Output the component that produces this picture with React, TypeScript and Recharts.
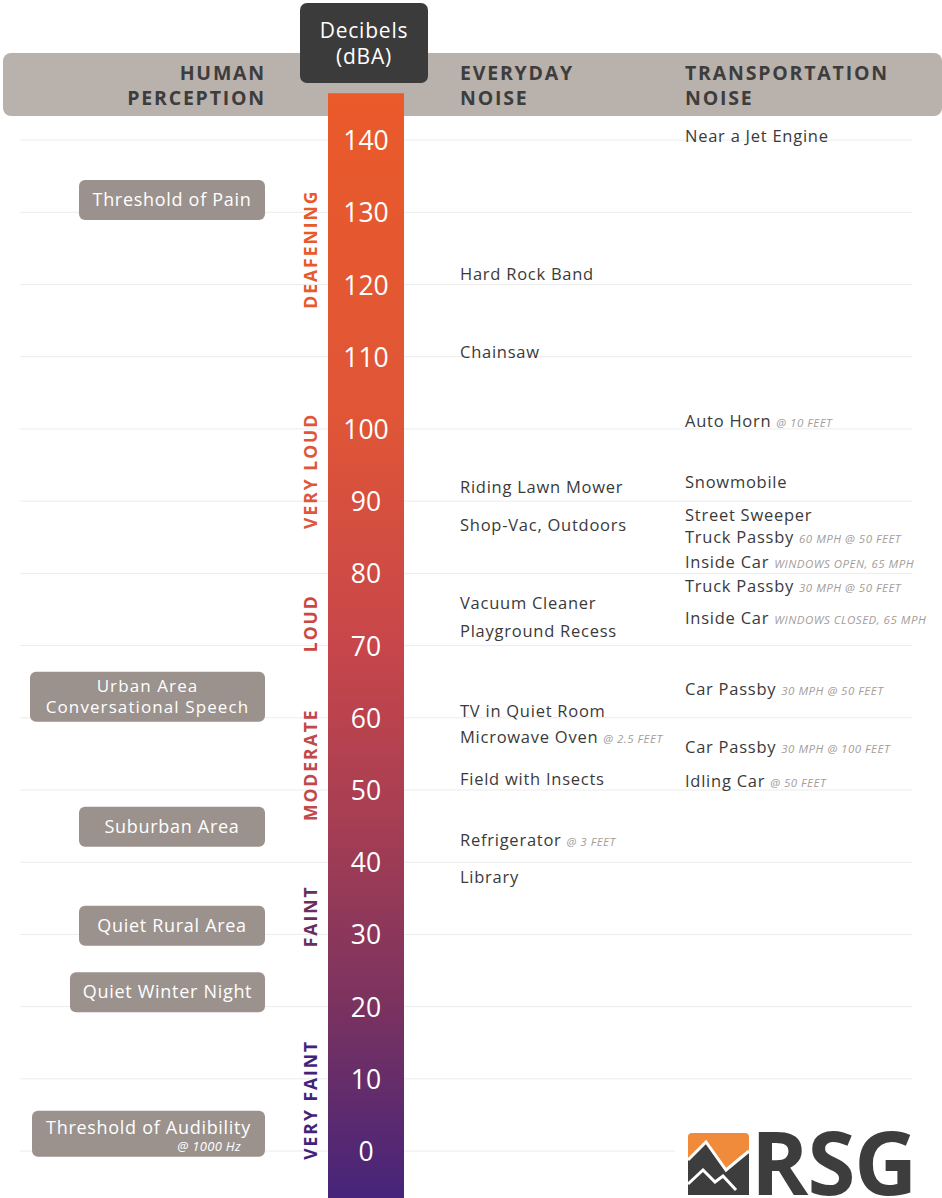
import React from "react";
import {
  ComposedChart,
  XAxis,
  YAxis,
  Scatter,
  ReferenceArea,
  ReferenceLine,
} from "recharts";

// decibel scale
const dbTicks = [0, 10, 20, 30, 40, 50, 60, 70, 80, 90, 100, 110, 120, 130, 140];

// everyday noise
const everydayNames = [
  "Hard Rock Band",
  "Chainsaw",
  "Riding Lawn Mower",
  "Shop-Vac, Outdoors",
  "Vacuum Cleaner",
  "Playground Recess",
  "TV in Quiet Room",
  "Microwave Oven",
  "Field with Insects",
  "Refrigerator",
  "Library",
];
const everydayDb = [121.5, 110.7, 92.0, 86.7, 75.9, 72.0, 60.9, 57.3, 51.5, 43.1, 38.0];
const everydayNotes = ["", "", "", "", "", "", "", "@ 2.5 FEET", "", "@ 3 FEET", ""];

// transportation noise
const transportNames = [
  "Near a Jet Engine",
  "Auto Horn",
  "Snowmobile",
  "Street Sweeper",
  "Truck Passby",
  "Inside Car",
  "Truck Passby",
  "Inside Car",
  "Car Passby",
  "Car Passby",
  "Idling Car",
];
const transportDb = [140.6, 101.1, 92.7, 88.1, 85.0, 81.6, 78.3, 73.8, 64.0, 56.0, 51.2];
const transportNotes = [
  "",
  "@ 10 FEET",
  "",
  "",
  "60 MPH @ 50 FEET",
  "WINDOWS OPEN, 65 MPH",
  "30 MPH @ 50 FEET",
  "WINDOWS CLOSED, 65 MPH",
  "30 MPH @ 50 FEET",
  "30 MPH @ 100 FEET",
  "@ 50 FEET",
];

// human perception
const perceptionNames = [
  "Threshold of Pain",
  "Urban Area|Conversational Speech",
  "Suburban Area",
  "Quiet Rural Area",
  "Quiet Winter Night",
  "Threshold of Audibility",
];
const perceptionDb = [131.7, 62.9, 44.9, 31.2, 22.0, 2.4];
const perceptionNotes = ["", "", "", "", "", "@ 1000 Hz"];

// loudness bands
const loudnessNames = ["DEAFENING", "VERY LOUD", "LOUD", "MODERATE", "FAINT", "VERY FAINT"];
const loudnessDb = [124.9, 94.2, 73.1, 53.5, 32.5, 7.1];

// layout
const W = 942;
const H = 1198;
const DB_MAX = 159.4;
const DB_MIN = -6.5;
const FONT = "'Open Sans', sans-serif";
const DARK = "#3d3d3d";
const pillWidths = [186, 235, 186, 186, 195, 233];
const loudnessColors = ["#e8592b", "#e0563a", "#cc4742", "#c2484c", "#6a2d60", "#43237a"];

const tickData = dbTicks.map((v) => ({ x: 366, y: v }));
const everydayData = everydayNames.map((n, i) => ({ x: 460, y: everydayDb[i], name: n, note: everydayNotes[i] }));
const transportData = transportNames.map((n, i) => ({ x: 685, y: transportDb[i], name: n, note: transportNotes[i] }));
const perceptionData = perceptionNames.map((n, i) => ({ x: 265, y: perceptionDb[i], name: n, note: perceptionNotes[i], i }));
const loudnessData = loudnessNames.map((n, i) => ({ x: 310, y: loudnessDb[i], name: n, i }));

const TickShape = (p: any) => (
  <text x={p.cx} y={p.cy} textAnchor="middle" dominantBaseline="central" fill="#fff" fontSize={26.5} fontWeight={500} fontFamily={FONT}>
    {p.payload.y}
  </text>
);

const NoiseShape = (p: any) => (
  <text x={p.cx} y={p.cy + 6} fill="#3a3a3a" fontSize={16.5} fontFamily={FONT} letterSpacing={0.75}>
    {p.payload.name}
    {p.payload.note ? (
      <tspan dx={5} fontSize={11.5} fontStyle="italic" fill="#a39d9a" letterSpacing={0.5}>
        {p.payload.note}
      </tspan>
    ) : null}
  </text>
);

const PillShape = (p: any) => {
  const lines = String(p.payload.name).split("|");
  const w = pillWidths[p.payload.i];
  const h = lines.length > 1 ? 50 : p.payload.note ? 46 : 40;
  const cx = p.cx - w / 2;
  return (
    <g>
      <rect x={p.cx - w} y={p.cy - h / 2} width={w} height={h} rx={6} fill="#9b928d" />
      {lines.length > 1 ? (
        lines.map((l, k) => (
          <text key={k} x={cx} y={p.cy - 10.5 + k * 21 + 6} textAnchor="middle" fill="#fff" fontSize={17} letterSpacing={1.1} fontFamily={FONT}>
            {l}
          </text>
        ))
      ) : (
        <text x={cx} y={p.cy + (p.payload.note ? -6 : 0) + 6} textAnchor="middle" fill="#fff" fontSize={18} letterSpacing={0.7} fontFamily={FONT}>
          {lines[0]}
        </text>
      )}
      {p.payload.note ? (
        <text x={p.cx - 24} y={p.cy + 17} textAnchor="end" fill="#fff" fontSize={13} letterSpacing={0.3} fontStyle="italic" fontFamily={FONT}>
          {p.payload.note}
        </text>
      ) : null}
    </g>
  );
};

const LoudnessShape = (p: any) => (
  <text
    x={p.cx}
    y={p.cy}
    transform={`rotate(-90 ${p.cx} ${p.cy})`}
    textAnchor="middle"
    dominantBaseline="central"
    fill={loudnessColors[p.payload.i]}
    fontSize={17.5}
    fontWeight={700}
    letterSpacing={2}
    fontFamily={FONT}
  >
    {p.payload.name}
  </text>
);

const headText: React.CSSProperties = {
  position: "absolute",
  top: 60,
  fontFamily: FONT,
  fontWeight: 700,
  fontSize: 19.5,
  letterSpacing: 1.8,
  lineHeight: "25px",
  color: DARK,
};

export default function App() {
  return (
    <div style={{ position: "absolute", left: 0, top: 0, width: W, height: H, overflow: "hidden", background: "#fff" }}>
      {/* header band */}
      <div style={{ position: "absolute", left: 3, top: 53, width: 939, height: 63, background: "#b9b1ac", borderRadius: 8 }} />
      <div style={{ ...headText, left: 40, width: 226, textAlign: "right" }}>
        HUMAN
        <br />
        PERCEPTION
      </div>
      <div style={{ ...headText, left: 460 }}>
        EVERYDAY
        <br />
        NOISE
      </div>
      <div style={{ ...headText, left: 685 }}>
        TRANSPORTATION
        <br />
        NOISE
      </div>

      <div style={{ position: "absolute", left: 0, top: 0 }}>
        <ComposedChart width={W} height={H} margin={{ top: 0, right: 0, bottom: 0, left: 0 }}>
          <defs>
            <linearGradient id="dbGrad" x1="0" y1="0" x2="0" y2="1">
              <stop offset="0%" stopColor="#ea5a2a" />
              <stop offset="30%" stopColor="#df5537" />
              <stop offset="50%" stopColor="#c7464a" />
              <stop offset="66%" stopColor="#a63e53" />
              <stop offset="82%" stopColor="#7c335f" />
              <stop offset="100%" stopColor="#46247a" />
            </linearGradient>
          </defs>
          <XAxis type="number" dataKey="x" domain={[0, W]} hide />
          <YAxis type="number" dataKey="y" domain={[DB_MIN, DB_MAX]} hide allowDataOverflow />
          {dbTicks.map((v) => (
            <ReferenceLine
              key={`l${v}`}
              segment={[
                { x: 20, y: v },
                { x: 328, y: v },
              ]}
              stroke="#ececec"
              strokeWidth={1}
            />
          ))}
          {dbTicks.map((v) => (
            <ReferenceLine
              key={`r${v}`}
              segment={[
                { x: 404, y: v },
                { x: v === 0 ? 675 : 912, y: v },
              ]}
              stroke="#ececec"
              strokeWidth={1}
            />
          ))}
          <ReferenceArea x1={328} x2={404} y1={DB_MIN} y2={146.5} fill="url(#dbGrad)" fillOpacity={1} stroke="none" />
          <Scatter data={tickData} shape={TickShape} isAnimationActive={false} />
          <Scatter data={everydayData} shape={NoiseShape} isAnimationActive={false} />
          <Scatter data={transportData} shape={NoiseShape} isAnimationActive={false} />
          <Scatter data={perceptionData} shape={PillShape} isAnimationActive={false} />
          <Scatter data={loudnessData} shape={LoudnessShape} isAnimationActive={false} />
        </ComposedChart>
      </div>

      {/* decibels box */}
      <div
        style={{
          position: "absolute",
          left: 300,
          top: 3,
          width: 128,
          height: 80,
          background: "#3b3b3b",
          borderRadius: 7,
          color: "#fff",
          fontFamily: FONT,
          fontSize: 21,
          letterSpacing: 0.8,
          lineHeight: "26px",
          textAlign: "center",
          paddingTop: 14,
          boxSizing: "border-box",
        }}
      >
        <div>Decibels</div>
        <div>(dBA)</div>
      </div>

      {/* logo */}
      <svg style={{ position: "absolute", left: 686, top: 1100 }} width={256} height={98}>
        <rect x={2} y={33} width={61} height={62} rx={4} fill="#ef8b3b" />
        <polygon points="2,60 20,42 40,70 63,51 63,95 2,95" fill={DARK} />
        <polyline points="2,60 20,42 40,70 63,51" fill="none" stroke="#fff" strokeWidth={3} />
        <polyline points="2,84 17,70 29,82 37,76 50,90" fill="none" stroke="#fff" strokeWidth={3} />
        <text x={65} y={95} fill={DARK} fontSize={87} fontWeight={700} fontFamily={FONT} letterSpacing={-1}>
          RSG
        </text>
      </svg>
    </div>
  );
}
